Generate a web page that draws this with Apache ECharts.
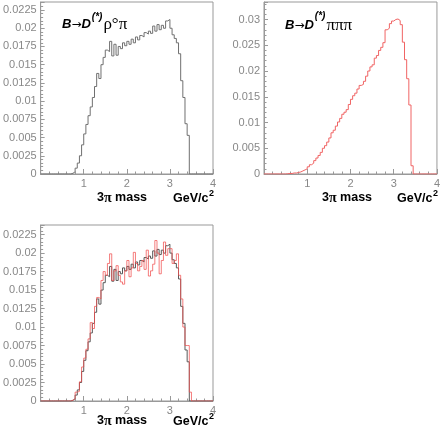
<!DOCTYPE html>
<html>
<head>
<meta charset="utf-8">
<script src="https://cdn.jsdelivr.net/npm/echarts@6/dist/echarts.min.js"></script>
<style>
  html, body { margin: 0; padding: 0; background: #fff; }
  #chart { width: 443px; height: 429px; }
</style>
</head>
<body>
<div id="chart"></div>
<script>
// 80 bins of 0.05 GeV/c^2 from 0 to 4, one value per bin (lower edge = i * binWidth)
const binWidth = 0.05;
const xTicks = [0, 1, 2, 3, 4];

// B -> D(*) rho0 pi  (top left, grey)
const rhoPi = [
  0, 0, 0, 0, 0, 0, 0, 0, 0, 0, 0, 0, 0, 0,
  0.0001, 0.0003, 0.0008, 0.0015, 0.0025, 0.0040,
  0.0055, 0.0068, 0.0080, 0.0092, 0.0105, 0.0120, 0.0138, 0.0131, 0.0150, 0.0160,
  0.0170, 0.0168, 0.0182, 0.0162, 0.0178, 0.0163, 0.0175, 0.0172, 0.0180, 0.0176,
  0.0182, 0.0178, 0.0185, 0.0180, 0.0188, 0.0184, 0.0190, 0.0188, 0.0194, 0.0192,
  0.0196, 0.0193, 0.0203, 0.0196, 0.0205, 0.0198, 0.0204, 0.0200, 0.0210, 0.0212,
  0.0200, 0.0191, 0.0186, 0.0180, 0.0165, 0.0128, 0.0105, 0.0069, 0.0053,
  0, 0, 0, 0, 0, 0, 0, 0, 0, 0, 0
];

// B -> D(*) pi pi pi  (top right, red)
const threePi = [
  0, 0, 0, 0, 0, 0, 0, 0, 0, 0,
  0.00005, 0.0001, 0.0001, 0.0002, 0.0002, 0.0003, 0.0004, 0.0006, 0.0008, 0.0010,
  0.0014, 0.0018, 0.0021, 0.0026, 0.0031, 0.0036, 0.0042, 0.0050, 0.0055, 0.0062,
  0.0070, 0.0080, 0.0085, 0.0093, 0.0101, 0.0108, 0.0116, 0.0120, 0.0125, 0.0135,
  0.0145, 0.0152, 0.0157, 0.0165, 0.0172, 0.0174, 0.0180, 0.0190, 0.0200, 0.0208,
  0.0212, 0.0225, 0.0230, 0.0240, 0.0246, 0.0255, 0.0280, 0.0283, 0.0292, 0.0297,
  0.0300, 0.0301, 0.0298, 0.0290, 0.0256, 0.0222, 0.0185, 0.0134, 0.0016,
  0, 0, 0, 0, 0, 0, 0, 0, 0, 0, 0
];

// bottom panel, red overlay
const overlayRed = [
  0, 0, 0, 0, 0, 0, 0, 0, 0, 0, 0, 0, 0, 0,
  0.0001, 0.0003, 0.0012, 0.0013, 0.0026, 0.0046,
  0.0058, 0.0070, 0.0084, 0.0106, 0.0098, 0.0128, 0.0140, 0.0138, 0.0163, 0.0175,
  0.0170, 0.0186, 0.0199, 0.0163, 0.0176, 0.0183, 0.0170, 0.0161, 0.0158, 0.0176,
  0.0190, 0.0168, 0.0180, 0.0201, 0.0186, 0.0176, 0.0182, 0.0190, 0.0178, 0.0204,
  0.0169, 0.0176, 0.0185, 0.0217, 0.0200, 0.0172, 0.0190, 0.0215, 0.0197, 0.0206,
  0.0206, 0.0186, 0.0190, 0.0199, 0.0170, 0.0138, 0.0100, 0.0075, 0.0075, 0.0012,
  0, 0, 0, 0, 0, 0, 0, 0, 0, 0
];

const yTicksLeft = [0, 0.0025, 0.005, 0.0075, 0.01, 0.0125, 0.015, 0.0175, 0.02, 0.0225];
const yTicksRight = [0, 0.005, 0.01, 0.015, 0.02, 0.025, 0.03];

function toSteps(vals) {
  const pts = vals.map((v, i) => [+(i * binWidth).toFixed(2), v]);
  pts.push([xTicks[xTicks.length - 1], 0]);
  return pts;
}

const frame = '#999';
const labelGrey = '#888';
const sans = 'Liberation Sans, Arial, Helvetica, sans-serif';

function xAxisFor(gi) {
  return {
    type: 'value', gridIndex: gi, min: xTicks[0], max: xTicks[xTicks.length - 1], interval: 1,
    axisLine: { lineStyle: { color: frame } },
    axisTick: { inside: true, length: 5, lineStyle: { color: frame } },
    minorTick: { show: true, splitNumber: 5, length: 2.5, lineStyle: { color: frame } },
    splitLine: { show: false },
    axisLabel: { showMinLabel: false, color: labelGrey, fontSize: 11, fontFamily: sans, margin: 4 }
  };
}

function yAxisFor(gi, max, ticks) {
  const step = ticks[1] - ticks[0];
  return {
    type: 'value', gridIndex: gi, min: 0, max: max, interval: step,
    axisLine: { show: true, lineStyle: { color: frame } },
    axisTick: { inside: true, length: 4, lineStyle: { color: frame } },
    minorTick: { show: true, splitNumber: 5, length: 2.5, lineStyle: { color: frame } },
    splitLine: { show: false },
    axisLabel: {
      color: labelGrey, fontSize: 11, fontFamily: sans, margin: 4,
      formatter: function (v) {
        const k = v / step;
        return Math.abs(k - Math.round(k)) < 1e-6 ? String(+v.toFixed(4)) : '';
      }
    }
  };
}

function histo(gi, vals, color, opacity) {
  return {
    type: 'line', xAxisIndex: gi, yAxisIndex: gi, step: 'end', symbol: 'none',
    data: toSteps(vals), silent: true,
    lineStyle: { color: color, width: 1, opacity: opacity || 1 }
  };
}

// text measuring for chaining the pieces of the decay labels
const measureCtx = document.createElement('canvas').getContext('2d');
function textWidth(s, font) { measureCtx.font = font; return measureCtx.measureText(s).width; }

const fontBI = 'italic bold 13px "Liberation Sans"';
const fontArrow = '12px "DejaVu Sans"';
const fontSup = 'italic bold 10px "Liberation Sans"';
const fontGreek = '17px "Liberation Serif"';

function decayLabel(left, cy, supY, greek) {
  const parts = [
    { s: 'B', f: fontBI, y: cy },
    { s: '→', f: fontArrow, y: cy },
    { s: 'D', f: fontBI, y: cy },
    { s: '(*)', f: fontSup, y: supY, gap: 1 },
    { s: greek, f: fontGreek, y: cy + 0.5, gap: 1 }
  ];
  let x = left;
  return parts.map(p => {
    x += p.gap || 0;
    const el = { type: 'text', x: x, y: p.y, silent: true,
      style: { text: p.s, font: p.f, fill: '#000', verticalAlign: 'middle', align: 'left' } };
    x += textWidth(p.s, p.f);
    return el;
  });
}

const axisRich = {
  t: { fontFamily: sans, fontWeight: 'bold', fontSize: 12.5, lineHeight: 16, fill: '#000' },
  p: { fontFamily: 'Liberation Serif, serif', fontWeight: 'bold', fontSize: 14, lineHeight: 16, fill: '#000' }
};

function axisTitles(x1, x2, cy) {
  const fu = 'bold 12.5px "Liberation Sans"';
  const w = textWidth('GeV/c', fu);
  return [
    { type: 'text', left: x1, top: cy - 8, silent: true, style: { text: '{t|3}{p|π}{t| mass}', rich: axisRich } },
    { type: 'text', x: x2, y: cy, silent: true, style: { text: 'GeV/c', font: fu, fill: '#000', verticalAlign: 'middle' } },
    { type: 'text', x: x2 + w + 0.5, y: cy - 5, silent: true, style: { text: '2', font: 'bold 9px "Liberation Sans"', fill: '#000', verticalAlign: 'middle' } }
  ];
}

const chart = echarts.init(document.getElementById('chart'), null, { renderer: 'canvas' });
chart.setOption({
  animation: false,
  backgroundColor: '#fff',
  grid: [
    { left: 40, top: 2, width: 173, height: 172, show: true, borderColor: frame, borderWidth: 1, backgroundColor: 'transparent' },
    { left: 264, top: 2, width: 174, height: 172, show: true, borderColor: frame, borderWidth: 1, backgroundColor: 'transparent' },
    { left: 40, top: 225, width: 173, height: 176, show: true, borderColor: frame, borderWidth: 1, backgroundColor: 'transparent' }
  ],
  xAxis: [xAxisFor(0), xAxisFor(1), xAxisFor(2)],
  yAxis: [
    yAxisFor(0, 0.0236, yTicksLeft),
    yAxisFor(1, 0.0334, yTicksRight),
    yAxisFor(2, 0.0238, yTicksLeft)
  ],
  series: [
    histo(0, rhoPi, '#707070'),
    histo(1, threePi, '#f06464'),
    histo(2, rhoPi, '#585858'),
    histo(2, overlayRed, '#f05050', 0.75)
  ],
  graphic: []
    .concat(decayLabel(62, 24.5, 17, 'ρ°π'), decayLabel(285, 25.5, 16, 'πππ'))
    .concat(axisTitles(97, 173, 199), axisTitles(322, 397, 199), axisTitles(97, 173, 422))
});
</script>
</body>
</html>
